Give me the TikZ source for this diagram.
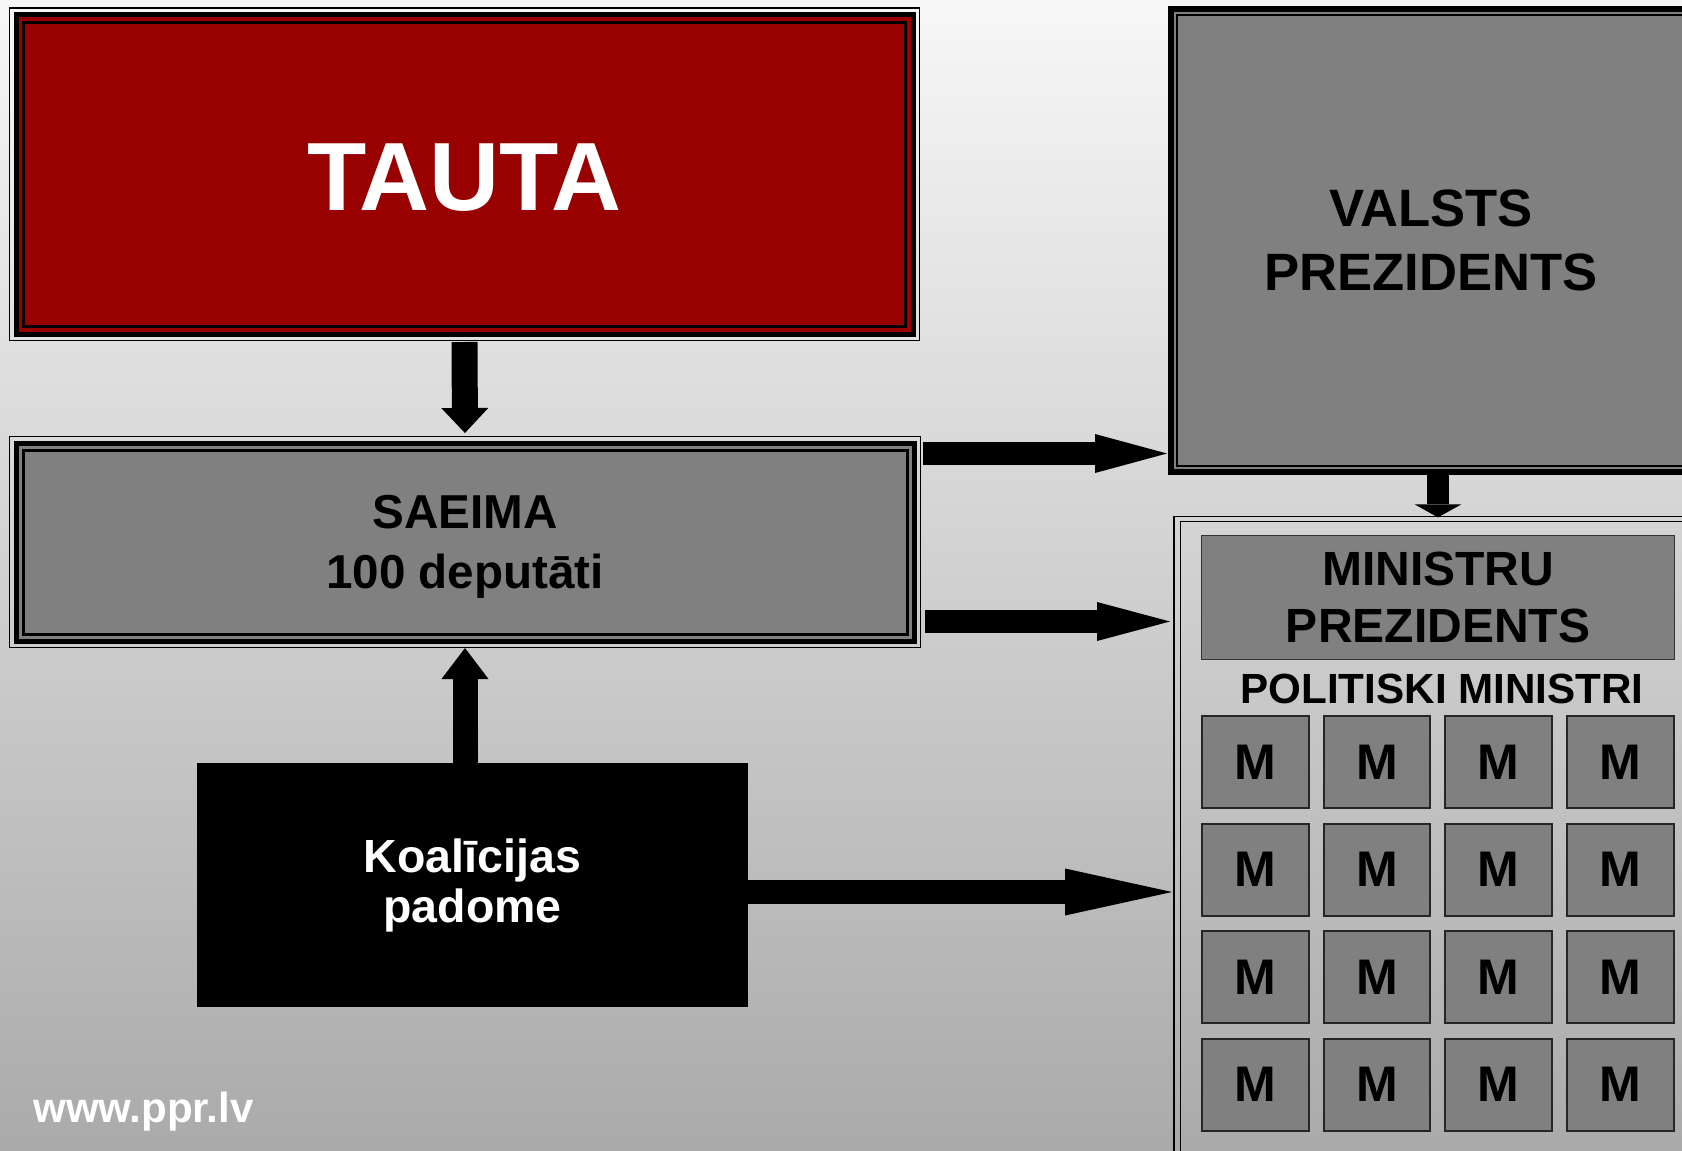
\documentclass[tikz,border=0pt]{standalone}
\usepackage{fontspec}
\setmainfont{Liberation Sans}
\usetikzlibrary{arrows.meta,positioning}

\definecolor{tautared}{HTML}{990000}
\definecolor{boxgray}{HTML}{808080}
\definecolor{bgtop}{HTML}{F7F7F7}
\definecolor{bgbottom}{HTML}{AAAAAA}

% outer thin line and inner thin line round a framed node
\newcommand{\triframe}[4][1.5pt]{%
  \draw[line width=0.6pt] ([shift={(-#3,-#3)}]#2.north west) rectangle ([shift={(#3,#3)}]#2.south east);
  \draw[line width=#1] ([shift={(#4,#4)}]#2.north west) rectangle ([shift={(-#4,-#4)}]#2.south east);
}
% last line without its descender
\newcommand{\nodepth}[1]{\raisebox{0pt}[\height][0pt]{#1}}

\begin{document}
\begin{tikzpicture}[x=0.5pt,y=-0.5pt,
    bigbox/.style={draw=black, line width=2.5pt, fill=boxgray, outer sep=0pt, inner sep=0pt, align=center},
    mbox/.style={draw=black!85, line width=1pt, fill=boxgray, minimum width=53.35pt, minimum height=46pt,
      inner sep=0pt, outer sep=0pt, font=\bfseries\fontsize{25}{30}\selectfont},
    blockarrow/.style n args={3}{line width=#1, -{Triangle[width=#2,length=#3,line width=0pt]}},
  ]
  \useasboundingbox (0,0) rectangle (1682,1151);
  \shade[top color=bgtop, bottom color=bgbottom] (0,0) rectangle (1682,1151);

  % boxes
  \node[bigbox, fill=tautared, text=white, minimum width=448.5pt, minimum height=159.75pt, text height=36.8pt,
    font=\bfseries\fontsize{48.5}{58}\selectfont] (tauta) at (464.5,174.25) {TAUTA};
  \node[bigbox, minimum width=449pt, minimum height=99pt,
    font=\bfseries\fontsize{23.8}{30}\selectfont] (saeima) at (465,542) {SAEIMA\\\nodepth{100 deputāti}};
  \node[bigbox, line width=2pt, minimum width=259pt, minimum height=230.5pt,
    font=\bfseries\fontsize{26.3}{32}\selectfont] (valsts) at (1431,240.5) {VALSTS\\PREZIDENTS};
  \node[draw=black, line width=0.75pt, minimum width=257.5pt, minimum height=315.8pt,
    outer sep=0pt] (kabinets) at (1438,837.2) {};
  \node[draw=black!80, line width=0.75pt, fill=boxgray, minimum width=236.35pt, minimum height=62pt,
    inner sep=0pt, align=center, font=\bfseries\fontsize{24}{28.8}\selectfont] (minprez) at (1438,597.6) {MINISTRU\\PREZIDENTS};
  \node[font=\bfseries\fontsize{21.1}{25}\selectfont, inner sep=0pt] (politiski) at (1442,689.4) {POLITISKI MINISTRI};
  \node[bigbox, draw=none, fill=black, text=white, minimum width=275.5pt, minimum height=122pt,
    font=\bfseries\fontsize{23.25}{25}\selectfont] (koal) at (472.5,885) {Koalīcijas\\padome};
  \node[anchor=base west, inner sep=0pt, text=white,
    font=\bfseries\fontsize{21}{25}\selectfont] (web) at (33,1122) {www.ppr.lv};

  \foreach \r in {0,...,3}
    \foreach \c in {0,...,3}
      \node[mbox] (m\r\c) at ({1255.2+121.7*\c},{762.2+107.5*\r}) {M};

  % frames
  \triframe{tauta}{6.5}{7.5}
  \triframe{saeima}{6.5}{7}
  \triframe[1pt]{valsts}{3}{5}
  \draw[line width=0.75pt] ([shift={(-6.7,-5.1)}]kabinets.north west) rectangle ([shift={(6.7,7)}]kabinets.south east);

  % arrows
  \coordinate (s1) at ([yshift=44.25pt]saeima.east);
  \coordinate (s2) at ([yshift=-39.75pt]saeima.east);
  \coordinate (k1) at ([yshift=-3.5pt]koal.east);
  \draw[blockarrow={13pt}{23.5pt}{12.5pt}, shorten <=4pt, shorten >=5pt] (tauta.south) -- (saeima.north);
  \draw[blockarrow={11.5pt}{19.5pt}{36pt}, shorten <=4.5pt, shorten >=2.5pt] (s1) -- (s1 -| valsts.west);
  \draw[blockarrow={11.5pt}{19.5pt}{36.5pt}, shorten <=5.5pt, shorten >=5.25pt] (s2) -- (s2 -| kabinets.west);
  \draw[blockarrow={12.5pt}{23.5pt}{15.5pt}, shorten >=3.5pt] (saeima.south |- koal.north) -- (saeima.south);
  \draw[blockarrow={12pt}{23.5pt}{53.5pt}, shorten >=4.25pt] (k1) -- (k1 -| kabinets.west);
  \draw[blockarrow={11pt}{23.25pt}{6.5pt}, shorten <=1.5pt, shorten >=2pt] (kabinets.north |- valsts.south) -- (kabinets.north);
\end{tikzpicture}
\end{document}
